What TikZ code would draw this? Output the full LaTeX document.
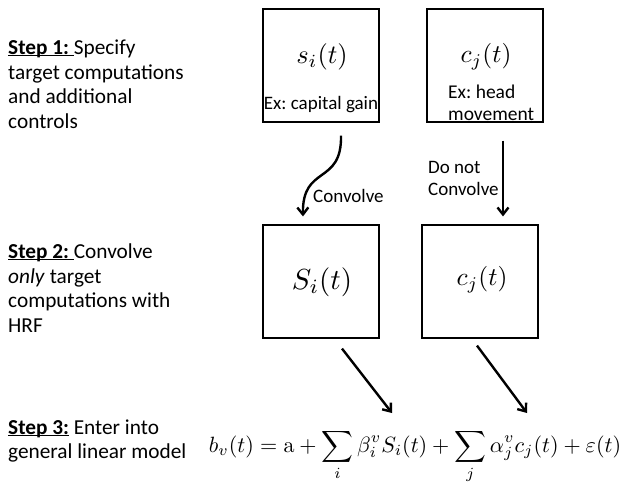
\documentclass[tikz,border=0pt]{standalone}
\usepackage{amsmath}
\usepackage{graphicx}
\usepackage[no-math]{fontspec}
\setmainfont{Carlito}
\usetikzlibrary{arrows.meta, positioning}

\newcommand{\stepline}[1]{\setbox0\hbox{#1}\rlap{\rule[-1.6pt]{\wd0}{1.3pt}}\box0\relax}
\frenchspacing

\begin{document}
\begin{tikzpicture}[x = 1pt, y = -1pt,
  box/.style = {draw, line width = 1.2pt, minimum width = 116pt, minimum height = 113pt, inner sep = 0},
  steptext/.style = {anchor = west, align = left, inner sep = 0, font = \fontsize{21.3}{24.5}\selectfont},
  boxtext/.style = {inner sep = 0, align = left, font = \fontsize{19}{22}\selectfont},
  flow/.style = {line width = 2.4pt, -{Straight Barb[length = 7pt, width = 11pt]}}]
\useasboundingbox (0,0) rectangle (639,487);

% steps
\node[steptext] (step1) at (8,84) {\stepline{\textbf{Step 1:}\ }Specify\\target computations\\and additional\\controls};
\node[steptext] (step2) at (8,288) {\stepline{\textbf{Step 2:}\ }Convolve\\\textit{only} target\\computations with\\HRF};
\node[steptext] (step3) at (8,441) {\stepline{\textbf{Step 3:}} Enter into\\general linear model};

% boxes
\node[box] (s1) at (321,65.5) {};
\node[box] (c1) at (485,65.5) {};
\node[box] (s2) at (321,281.5) {};
\node[box] (c2) at (480,281.5) {};

\node (s1m) at (322,57) {\scalebox{2.65}{$s_i(t)$}};
\node[boxtext] (s1ex) at (321,105) {Ex: capital gain};
\node (c1m) at (486,57) {\scalebox{2.55}{$c_j(t)$}};
\node[boxtext, anchor = west, font = \fontsize{19.5}{22}\selectfont] (c1ex) at (448,103) {Ex: head\\movement};
\node (s2m) at (322,282) {\scalebox{2.9}{$S_i(t)$}};
\node (c2m) at (482,280) {\scalebox{2.55}{$c_j(t)$}};

% model
\node[anchor = base, inner sep = 0] (glm) at (415,452) {\scalebox{2.21}{%
  $\displaystyle b_v(t) = \mathrm{a} + \sum_i \beta_i^v S_i(t) + \sum_j \alpha_j^v c_j(t) + \varepsilon(t)$}};

% arrows
\coordinate (cv-in) at ([xshift = 20pt, yshift = -13pt]s1.south);
\coordinate (cv-out) at ([xshift = -18pt, yshift = 8pt]s2.north);
\coordinate (dn-in) at ([xshift = 18pt, yshift = -18pt]c1.south);
\coordinate (dn-out) at ([xshift = 23pt, yshift = 8pt]c2.north);
\coordinate (sg-in) at ([xshift = 21pt, yshift = -10pt]s2.south);
\coordinate (sg-out) at (392,413);
\coordinate (cg-in) at ([xshift = -3pt, yshift = -7pt]c2.south);
\coordinate (cg-out) at (527,413);

\draw[flow] (cv-in) .. controls +(1,50) and +(-1,-52) .. (cv-out);
\node[boxtext, anchor = west] (conv) at (313,196) {Convolve};
\draw[flow] (dn-in) -- (dn-out);
\node[boxtext, anchor = west] (noconv) at (428,178) {Do not\\Convolve};
\draw[flow] (sg-in) -- (sg-out);
\draw[flow] (cg-in) -- (cg-out);
\end{tikzpicture}
\end{document}
